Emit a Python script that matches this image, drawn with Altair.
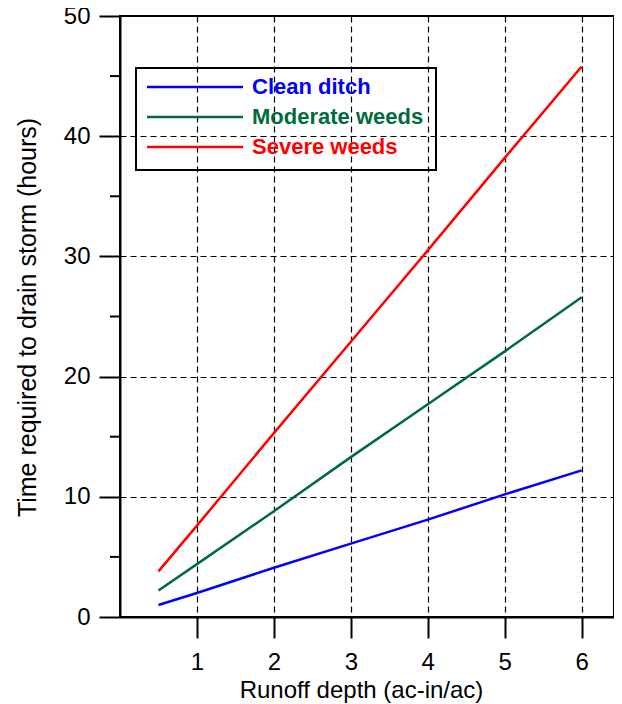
import altair as alt
import pandas as pd

x_vals = [0.5, 1, 2, 3, 4, 5, 6]
clean = [1.0, 2.0, 4.1, 6.1, 8.1, 10.2, 12.2]
moderate = [2.2, 4.4, 8.8, 13.3, 17.7, 22.1, 26.6]
severe = [3.8, 7.6, 15.3, 22.9, 30.5, 38.2, 45.8]
series = ["Clean ditch", "Moderate weeds", "Severe weeds"]
colors = ["#0000FF", "#006B3C", "#FF0000"]
x_ticks = [1, 2, 3, 4, 5, 6]
y_ticks = [0, 10, 20, 30, 40, 50]
y_minor = [5, 15, 25, 35, 45]

rows = []
for name, vals in zip(series, [clean, moderate, severe]):
    for xv, yv in zip(x_vals, vals):
        rows.append({"x": xv, "y": yv, "series": name})
df = pd.DataFrame(rows)

font = "Liberation Sans"
color_scale = alt.Scale(domain=series, range=colors)

lines = alt.Chart(df).mark_line(strokeWidth=2.5).encode(
    x=alt.X("x:Q", scale=alt.Scale(domain=[0, 6.42], nice=False),
            axis=alt.Axis(values=x_ticks, title="Runoff depth (ac-in/ac)",
                          grid=True, gridDash=[6, 4], gridColor="black", gridWidth=1.2,
                          gridOpacity=1, tickSize=21, tickWidth=2, tickColor="black",
                          domainColor="black", domainWidth=2,
                          labelFont=font, labelFontSize=24, labelColor="black",
                          labelPadding=12, labelFlush=False,
                          titleFont=font, titleFontSize=24, titleFontWeight="normal",
                          titleColor="black", titleX=241, titleY=80,
                          titleBaseline="alphabetic")),
    y=alt.Y("y:Q", scale=alt.Scale(domain=[0, 50], nice=False),
            axis=alt.Axis(values=y_ticks, title="Time required to drain storm (hours)",
                          grid=True, gridDash=[6, 4], gridColor="black", gridWidth=1.2,
                          gridOpacity=1, tickSize=21, tickWidth=2, tickColor="black",
                          domainColor="black", domainWidth=2,
                          labelFont=font, labelFontSize=24, labelColor="black",
                          labelPadding=9, labelFlush=False,
                          titleFont=font, titleFontSize=25, titleFontWeight="normal",
                          titleColor="black", titleX=-85, titleY=301,
                          titleBaseline="alphabetic")),
    color=alt.Color("series:N", scale=color_scale, legend=None),
)

minor = alt.Chart(pd.DataFrame({"v": y_minor})).mark_rule(
    color="black", strokeWidth=2).encode(
    x=alt.value(-10), x2=alt.value(0),
    y=alt.Y("v:Q"),
)

main = alt.layer(lines, minor)

leg_df = pd.DataFrame({"series": series})
leg_y = alt.Y("series:N", scale=alt.Scale(domain=series, range=[56, 146]),
              axis=None)
leg_lines = alt.Chart(leg_df).mark_rule(strokeWidth=2.5).encode(
    x=alt.value(27), x2=alt.value(123), y=leg_y,
    color=alt.Color("series:N", scale=color_scale, legend=None),
)
leg_text = alt.Chart(leg_df).mark_text(
    align="left", baseline="middle", font=font, fontSize=22, fontWeight="bold").encode(
    x=alt.value(132), y=leg_y, text="series:N",
    color=alt.Color("series:N", scale=color_scale, legend=None),
)
leg_box = alt.Chart(pd.DataFrame({"k": [0]})).mark_rect(
    fill=None, fillOpacity=0, stroke="black", strokeWidth=2).encode(
    x=alt.value(16), x2=alt.value(316), y=alt.value(52), y2=alt.value(154),
)
legend = alt.layer(leg_box, leg_lines, leg_text)

chart = alt.layer(main, legend).resolve_scale(y="independent").properties(
    width=494, height=601,
    autosize=alt.AutoSizeParams(type="none"),
    padding={"left": 112, "top": 8, "right": 0, "bottom": 86},
    background="white",
).configure_view(stroke="black", strokeWidth=2)

chart.save("out.html", embed_options={"renderer": "svg", "actions": False})
